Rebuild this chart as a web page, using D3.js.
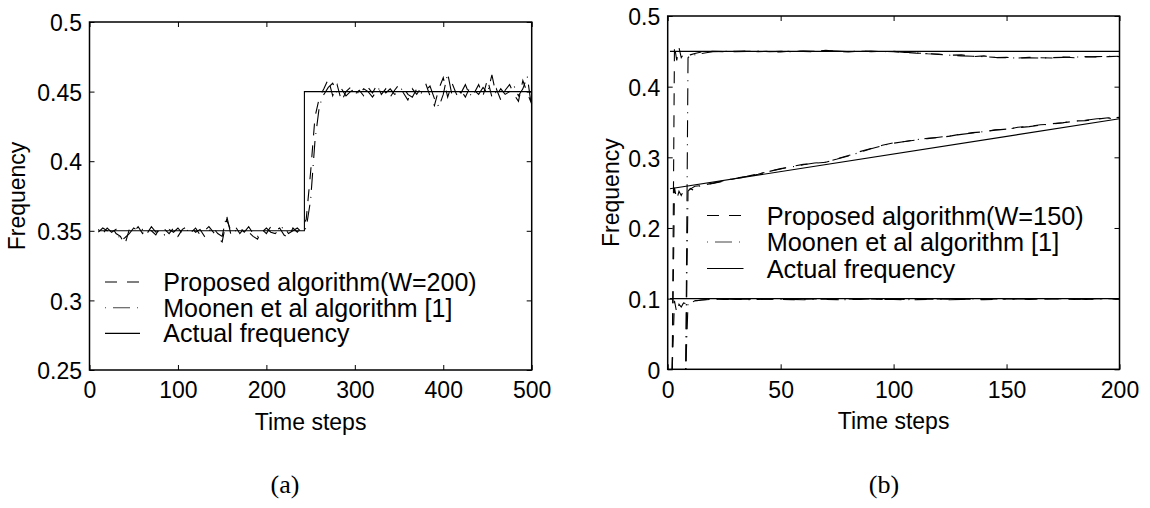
<!DOCTYPE html>
<html><head><meta charset="utf-8">
<script src="https://cdn.jsdelivr.net/npm/d3@7"></script>
<style>
body{margin:0;background:#fff}
svg text{fill:#000}
</style></head><body>
<svg id="fig" width="1150" height="508"></svg>
<script>
// ---------- panel (a): step change of a single frequency ----------
const aTicksX = [0, 100, 200, 300, 400, 500];
const aTickLabelsX = ["0", "100", "200", "300", "400", "500"];
const aTicksY = [0.25, 0.3, 0.35, 0.4, 0.45, 0.5];
const aTickLabelsY = ["0.25", "0.3", "0.35", "0.4", "0.45", "0.5"];
const aSteps = d3.range(10, 501, 5);
const aProposed = [
  0.349,0.352,0.350,0.353,0.348,0.346,0.340,0.351,0.349,0.353,
  0.348,0.352,0.350,0.347,0.353,0.351,0.348,0.352,0.346,0.351,
  0.353,0.349,0.352,0.347,0.350,0.353,0.349,0.345,0.342,0.358,
  0.350,0.353,0.348,0.352,0.349,0.346,0.344,0.351,0.348,0.353,
  0.350,0.352,0.347,0.345,0.352,0.349,0.353,
  0.358,0.392,0.432,0.446,0.452,0.459,0.447,0.455,0.443,0.450,
  0.453,0.448,0.451,0.447,0.453,0.449,0.455,0.448,0.452,0.446,
  0.451,0.455,0.449,0.444,0.452,0.448,0.453,0.456,0.447,0.440,
  0.452,0.460,0.446,0.456,0.448,0.451,0.446,0.453,0.449,0.455,
  0.447,0.459,0.446,0.452,0.444,0.451,0.455,0.448,0.443,0.458,
  0.449,0.441];
const aMoonen = [
  0.351,0.348,0.352,0.349,0.351,0.343,0.345,0.348,0.352,0.350,
  0.351,0.348,0.353,0.349,0.350,0.347,0.351,0.349,0.352,0.348,
  0.350,0.352,0.349,0.351,0.346,0.350,0.352,0.348,0.346,0.361,
  0.347,0.350,0.352,0.349,0.353,0.348,0.346,0.349,0.352,0.349,
  0.348,0.351,0.353,0.348,0.350,0.352,0.349,
  0.352,0.372,0.415,0.440,0.448,0.453,0.456,0.449,0.452,0.447,
  0.450,0.452,0.448,0.452,0.450,0.446,0.451,0.453,0.449,0.452,
  0.448,0.450,0.453,0.448,0.446,0.452,0.449,0.451,0.454,0.445,
  0.439,0.448,0.463,0.447,0.452,0.449,0.455,0.447,0.451,0.448,
  0.453,0.449,0.462,0.447,0.452,0.448,0.450,0.454,0.447,0.452,
  0.461,0.438];
const aActualSteps = [10, 243, 243, 500];
const aActual = [0.35, 0.35, 0.45, 0.45];
const aLegend = ["Proposed algorithm(W=200)", "Moonen et al algorithm [1]", "Actual frequency"];

// ---------- panel (b): three frequencies, one of them drifting ----------
const bTicksX = [0, 50, 100, 150, 200];
const bTickLabelsX = ["0", "50", "100", "150", "200"];
const bTicksY = [0, 0.1, 0.2, 0.3, 0.4, 0.5];
const bTickLabelsY = ["0", "0.1", "0.2", "0.3", "0.4", "0.5"];
const bPropSteps = [2, 3, 4, 5, 6, 7, 8, 10, 12, 15].concat(d3.range(20, 201, 5));
const bPropHigh = [0,0.458,0.437,0.455,0.441,0.446,0.442,0.445,0.447,0.449,
  0.450,0.4495,0.450,0.4505,0.4495,0.450,0.449,0.4505,0.450,0.4495,
  0.4515,0.450,0.449,0.4505,0.4495,0.450,0.4495,0.4485,0.4475,0.447,
  0.4455,0.4445,0.445,0.4425,0.4435,0.441,0.4415,0.4405,0.4415,0.441,
  0.4405,0.442,0.441,0.4425,0.442,0.4425,0.443];
const bPropMid = [0,0.257,0.240,0.252,0.246,0.253,0.250,0.255,0.259,0.260,
  0.263,0.2665,0.270,0.2725,0.276,0.2805,0.2835,0.287,0.290,0.2915,
  0.293,0.298,0.3025,0.308,0.3125,0.317,0.3205,0.3225,0.3245,0.327,
  0.328,0.330,0.333,0.335,0.336,0.339,0.3395,0.3425,0.344,0.346,
  0.347,0.349,0.3515,0.352,0.354,0.356,0.352];
const bPropLow = [0,0.097,0.080,0.092,0.088,0.094,0.093,0.096,0.097,0.098,
  0.0995,0.099,0.0985,0.0995,0.099,0.0995,0.099,0.0985,0.099,0.0995,
  0.099,0.0985,0.0995,0.099,0.0995,0.099,0.0995,0.099,0.0985,0.099,
  0.0995,0.099,0.0995,0.099,0.0985,0.099,0.0995,0.0995,0.099,0.0995,
  0.100,0.0995,0.099,0.0995,0.100,0.0995,0.0995];
const bMoonSteps = [8, 9, 10, 11, 12, 13, 15, 17].concat(d3.range(20, 201, 5));
const bMoonHigh = [0,0.441,0.444,0.442,0.445,0.444,0.447,0.448,
  0.4495,0.450,0.4495,0.450,0.4505,0.4495,0.450,0.4495,0.4505,0.450,
  0.451,0.4505,0.4495,0.450,0.4505,0.4495,0.450,0.4485,0.448,0.4465,
  0.446,0.4445,0.4435,0.443,0.4425,0.4415,0.441,0.4405,0.441,0.4405,
  0.441,0.4415,0.442,0.442,0.4425,0.443,0.4425];
const bMoonMid = [0,0.252,0.256,0.254,0.257,0.258,0.260,0.2615,
  0.2635,0.267,0.2705,0.273,0.2765,0.280,0.284,0.2865,0.2895,0.292,
  0.2935,0.2975,0.302,0.307,0.312,0.3165,0.320,0.3225,0.325,0.3265,
  0.3285,0.3305,0.3325,0.3345,0.3365,0.3385,0.340,0.342,0.3435,0.3455,
  0.3475,0.349,0.351,0.3525,0.3545,0.3555,0.3565];
const bMoonLow = [0,0.094,0.096,0.095,0.097,0.097,0.098,0.0985,
  0.099,0.0995,0.099,0.0985,0.099,0.0995,0.099,0.099,0.0985,0.099,
  0.0995,0.099,0.0985,0.099,0.0995,0.099,0.099,0.0985,0.099,0.0995,
  0.099,0.0985,0.099,0.0995,0.099,0.0995,0.099,0.0995,0.0995,0.099,
  0.0995,0.100,0.0995,0.099,0.0995,0.100,0.0995];
const bActualSteps = [1, 200];
const bActualHigh = [0.45, 0.45];
const bActualMid = [0.2555, 0.3545];
const bActualLow = [0.1, 0.1];
const bLegend = ["Proposed algorithm(W=150)", "Moonen et al algorithm [1]", "Actual frequency"];

// ---------- drawing ----------
const SANS = "'Liberation Sans', Arial, Helvetica, sans-serif";
const SERIF = "'Liberation Serif', 'Times New Roman', serif";
const DASH = "12,10";
const DASHDOT = "1,7,17,7";
const svg = d3.select("#fig");

function panel(o) {
  const g = svg.append("g");
  const x = d3.scaleLinear().domain(o.xDomain).range([o.left, o.right]);
  const y = d3.scaleLinear().domain(o.yDomain).range([o.bottom, o.top]);

  const tidy = s => {
    s.attr("font-size", 23).attr("font-family", SANS);
    s.select(".domain").remove();
    s.selectAll(".tick line").attr("stroke", "#000").attr("stroke-width", 1);
  };
  g.append("g").attr("transform", `translate(0,${o.bottom})`)
    .call(d3.axisBottom(x).tickValues(o.xTicks).tickFormat((d, i) => o.xLabels[i]).tickSize(-5).tickPadding(12))
    .call(tidy);
  g.append("g").attr("transform", `translate(0,${o.top})`)
    .call(d3.axisTop(x).tickValues(o.xTicks).tickFormat("").tickSize(-5))
    .call(tidy);
  g.append("g").attr("transform", `translate(${o.left},0)`)
    .call(d3.axisLeft(y).tickValues(o.yTicks).tickFormat((d, i) => o.yLabels[i]).tickSize(-5).tickPadding(7.5))
    .call(tidy)
    .selectAll("text").attr("dy", "0.38em");
  g.append("g").attr("transform", `translate(${o.right},0)`)
    .call(d3.axisRight(y).tickValues(o.yTicks).tickFormat("").tickSize(-5))
    .call(tidy);

  const line = d3.line().x(d => x(d[0])).y(d => y(d[1]));
  o.series.forEach(s => {
    g.append("path")
      .attr("d", line(d3.zip(s.steps, s.values)))
      .attr("fill", "none")
      .attr("stroke", "#000")
      .attr("stroke-width", 1.1)
      .attr("stroke-dasharray", s.dash);
  });

  g.append("rect")
    .attr("x", o.left).attr("y", o.top)
    .attr("width", o.right - o.left).attr("height", o.bottom - o.top)
    .attr("fill", "none").attr("stroke", "#000").attr("stroke-width", 1.5);

  // legend
  const lg = g.append("g").attr("font-family", SANS).attr("font-size", o.legendSize);
  o.legend.forEach((txt, i) => {
    const ly = o.legendY + i * o.legendGap;
    lg.append("line")
      .attr("x1", o.legendX).attr("x2", o.legendX + o.legendLen)
      .attr("y1", ly).attr("y2", ly)
      .attr("stroke", i === 1 ? "#444" : "#000").attr("stroke-width", 1.1)
      .attr("stroke-dasharray", o.legendDash[i]);
    lg.append("text")
      .attr("x", o.legendX + o.legendTextOffset).attr("y", ly).attr("dy", "0.36em")
      .text(txt);
  });

  // axis titles
  g.append("text")
    .attr("x", (o.left + o.right) / 2).attr("y", o.bottom + 59.5)
    .attr("text-anchor", "middle").attr("font-family", SANS).attr("font-size", 23)
    .text("Time steps");
  g.append("text")
    .attr("transform", `translate(${o.ylabelX},${(o.top + o.bottom) / 2}) rotate(-90)`)
    .attr("text-anchor", "middle").attr("font-family", SANS).attr("font-size", 23)
    .text("Frequency");
  g.append("text")
    .attr("x", o.captionX).attr("y", 493)
    .attr("text-anchor", "middle").attr("font-family", SERIF).attr("font-size", 26)
    .text(o.caption);
}

panel({
  left: 89.5, right: 531.7, top: 22, bottom: 370,
  xDomain: [0, 500], yDomain: [0.25, 0.5],
  xTicks: aTicksX, xLabels: aTickLabelsX, yTicks: aTicksY, yLabels: aTickLabelsY,
  series: [
    { steps: aSteps, values: aProposed, dash: DASH },
    { steps: aSteps, values: aMoonen, dash: DASHDOT },
    { steps: aActualSteps, values: aActual, dash: null }
  ],
  legend: aLegend, legendDash: [DASH, DASHDOT, null],
  legendX: 105, legendLen: 35, legendTextOffset: 58.3,
  legendY: 282, legendGap: 25.7, legendSize: 25,
  ylabelX: 25, captionX: 285, caption: "(a)"
});

panel({
  left: 667.7, right: 1119.5, top: 16, bottom: 369.3,
  xDomain: [0, 200], yDomain: [0, 0.5],
  xTicks: bTicksX, xLabels: bTickLabelsX, yTicks: bTicksY, yLabels: bTickLabelsY,
  series: [
    { steps: bPropSteps, values: bPropHigh, dash: DASH },
    { steps: bPropSteps, values: bPropMid, dash: DASH },
    { steps: bPropSteps, values: bPropLow, dash: DASH },
    { steps: bMoonSteps, values: bMoonHigh, dash: DASHDOT },
    { steps: bMoonSteps, values: bMoonMid, dash: DASHDOT },
    { steps: bMoonSteps, values: bMoonLow, dash: DASHDOT },
    { steps: bActualSteps, values: bActualHigh, dash: null },
    { steps: bActualSteps, values: bActualMid, dash: null },
    { steps: bActualSteps, values: bActualLow, dash: null }
  ],
  legend: bLegend, legendDash: [DASH, DASHDOT, null],
  legendX: 707, legendLen: 36.5, legendTextOffset: 59.7,
  legendY: 215.5, legendGap: 26.5, legendSize: 25.3,
  ylabelX: 618.5, captionX: 884, caption: "(b)"
});
</script>
</body></html>
